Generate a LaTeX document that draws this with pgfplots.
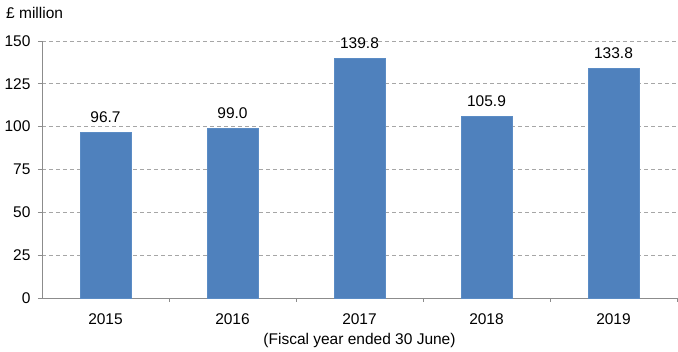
\documentclass[border=0pt]{standalone}
\usepackage{pgfplots}
\pgfplotsset{compat=1.18}
\usepackage{fontspec}
\setmainfont{Liberation Sans}
\definecolor{barblue}{HTML}{4F81BD}
\definecolor{baredge}{HTML}{5B8CC5}
\definecolor{axgray}{HTML}{8C8C8C}
\definecolor{gridgray}{HTML}{A6A6A6}
\begin{document}
\begin{tikzpicture}
\begin{axis}[
  scale only axis,
  width=635pt, height=257pt,
  at={(0,0)}, anchor=south west,
  ybar, bar width=0.4,
  xmin=-0.5, xmax=4.5,
  ymin=0, ymax=150,
  ytick={0,25,...,150},
  xtick={0,1,2,3,4},
  xticklabels={2015,2016,2017,2018,2019},
  minor xtick={0.5,1.5,2.5,3.5,4.5},
  axis x line*=bottom, axis y line*=left,
  axis line style={axgray, line width=0.8pt},
  x axis line style={-}, y axis line style={-},
  major x tick style={draw=none},
  minor x tick style={axgray, line width=0.8pt},
  major y tick style={axgray, line width=0.8pt},
  tick align=outside,
  major tick length=4pt, minor tick length=4pt,
  ymajorgrids,
  major grid style={gridgray, line width=0.8pt, dash pattern=on 4pt off 3pt},
  tick label style={font=\fontsize{15.5}{18}\selectfont},
  /pgf/number format/assume math mode=true,
  xticklabel style={yshift=-8pt},
  yticklabel style={xshift=-4pt},
  xlabel={(Fiscal year ended 30 June)},
  xlabel style={font=\fontsize{15.5}{18}\selectfont, yshift=-2pt},
  nodes near coords,
  nodes near coords style={font=\fontsize{15.5}{18}\selectfont, /pgf/number format/fixed, /pgf/number format/precision=1, /pgf/number format/fixed zerofill, yshift=6pt},
  clip=false,
]
\addplot[fill=barblue, draw=baredge, line width=0.6pt] coordinates {(0,96.7) (1,99.0) (2,139.8) (3,105.9) (4,133.8)};
\end{axis}
\node[anchor=west, font=\fontsize{15.5}{18}\selectfont, inner sep=0pt] at (-36pt,285pt) {£ million};
\pgfresetboundingbox
\path (-42pt,-54pt) rectangle (636pt,298pt);
\end{tikzpicture}
\end{document}
